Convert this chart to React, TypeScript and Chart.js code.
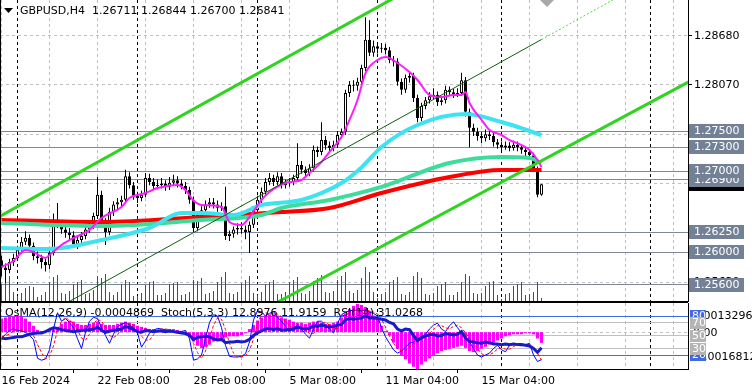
import React, { useEffect, useRef } from 'react';
import { Chart, registerables } from 'chart.js';

Chart.register(...registerables);

// ---------- header texts ----------
const symbolHeader = 'GBPUSD,H4  1.26711 1.26844 1.26700 1.26841';
const indicatorHeader = 'OsMA(12,26,9) -0.0004869  Stoch(5,3,3) 12.8976 11.9159  RSI(14) 31.0268';

// ---------- price data (H4 bars, index 0 = leftmost) ----------
const opens = [
  1.2590, 1.2581, 1.2578, 1.2588, 1.2593, 1.2603, 1.2613, 1.2618, 1.2608, 1.2595,
  1.2593, 1.2588, 1.2584, 1.2599, 1.2637, 1.2635, 1.2628, 1.2624, 1.2621, 1.2610,
  1.2615, 1.2620, 1.2628, 1.2633, 1.2645, 1.2671, 1.2637, 1.2625, 1.2650, 1.2659,
  1.2662, 1.2665, 1.2694, 1.2683, 1.2670, 1.2667, 1.2671, 1.2692, 1.2687, 1.2682,
  1.2683, 1.2685, 1.2681, 1.2686, 1.2689, 1.2685, 1.2682, 1.2677, 1.2665, 1.2630,
  1.2646, 1.2652, 1.2659, 1.2662, 1.2659, 1.2655, 1.2657, 1.2620, 1.2623, 1.2628,
  1.2630, 1.2628, 1.2625, 1.2634, 1.2652, 1.2665, 1.2675, 1.2687, 1.2692, 1.2687,
  1.2694, 1.2683, 1.2686, 1.2687, 1.2692, 1.2708, 1.2702, 1.2698, 1.2704, 1.2727,
  1.2724, 1.2739, 1.2732, 1.2729, 1.2733, 1.2745, 1.2749, 1.2797, 1.2807, 1.2806,
  1.2811, 1.2828, 1.2863, 1.2847, 1.2855, 1.2852, 1.2853, 1.2850, 1.2838, 1.2836,
  1.2811, 1.2801, 1.2816, 1.2818, 1.2791, 1.2766, 1.2781, 1.2788, 1.2793, 1.2795,
  1.2786, 1.2788, 1.2801, 1.2798, 1.2796, 1.2797, 1.2813, 1.2774, 1.2754, 1.2749,
  1.2744, 1.2741, 1.2746, 1.2744, 1.2736, 1.2733, 1.2730, 1.2732, 1.2729, 1.2733,
  1.2730, 1.2727, 1.2724, 1.2720, 1.2704, 1.26711,
];
const highs = [
  1.2596, 1.2586, 1.2592, 1.2598, 1.2608, 1.2619, 1.2626, 1.2622, 1.2612, 1.2601,
  1.2597, 1.2592, 1.2603, 1.2648, 1.2661, 1.2640, 1.2633, 1.2630, 1.2626, 1.2620,
  1.2625, 1.2632, 1.2638, 1.2649, 1.2693, 1.2676, 1.2642, 1.2655, 1.2663, 1.2667,
  1.2670, 1.2702, 1.2699, 1.2687, 1.2675, 1.2676, 1.2698, 1.2697, 1.2692, 1.2690,
  1.2692, 1.2689, 1.2693, 1.2696, 1.2694, 1.2690, 1.2687, 1.2681, 1.2669, 1.2650,
  1.2657, 1.2664, 1.2667, 1.2667, 1.2664, 1.2662, 1.2681, 1.2627, 1.2632, 1.2636,
  1.2637, 1.2633, 1.2638, 1.2656, 1.2670, 1.2680, 1.2692, 1.2698, 1.2696, 1.2699,
  1.2698, 1.2690, 1.2692, 1.2696, 1.2735, 1.2713, 1.2706, 1.2709, 1.2732, 1.2731,
  1.2761, 1.2744, 1.2737, 1.2738, 1.2750, 1.2753, 1.2801, 1.2812, 1.2813, 1.2816,
  1.2832, 1.2891, 1.2887, 1.2862, 1.2860, 1.2859, 1.2858, 1.2854, 1.2843, 1.2840,
  1.2815, 1.2820, 1.2823, 1.2822, 1.2795, 1.2785, 1.2792, 1.2798, 1.2803, 1.2799,
  1.2793, 1.2806, 1.2805, 1.2802, 1.2803, 1.2822, 1.2817, 1.2778, 1.2759, 1.2754,
  1.2749, 1.2752, 1.2751, 1.2748, 1.2740, 1.2737, 1.2737, 1.2736, 1.2738, 1.2737,
  1.2733, 1.2730, 1.2727, 1.2723, 1.2706, 1.26844,
];
const lows = [
  1.2570, 1.2562, 1.2574, 1.2583, 1.2589, 1.2598, 1.2609, 1.2603, 1.2590, 1.2586,
  1.2580, 1.2576, 1.2579, 1.2596, 1.2630, 1.2623, 1.2618, 1.2615, 1.2606, 1.2604,
  1.2611, 1.2616, 1.2624, 1.2629, 1.2641, 1.2633, 1.2609, 1.2621, 1.2645, 1.2653,
  1.2657, 1.2662, 1.2679, 1.2665, 1.2661, 1.2663, 1.2668, 1.2683, 1.2678, 1.2678,
  1.2679, 1.2676, 1.2677, 1.2682, 1.2680, 1.2678, 1.2672, 1.2660, 1.2625, 1.2626,
  1.2641, 1.2648, 1.2655, 1.2654, 1.2650, 1.2651, 1.2615, 1.2614, 1.2618, 1.2622,
  1.2623, 1.2616, 1.2599, 1.2630, 1.2648, 1.2660, 1.2671, 1.2683, 1.2682, 1.2683,
  1.2679, 1.2679, 1.2681, 1.2683, 1.2688, 1.2697, 1.2693, 1.2694, 1.2700, 1.2718,
  1.2720, 1.2727, 1.2724, 1.2725, 1.2729, 1.2741, 1.2745, 1.2792, 1.2799, 1.2800,
  1.2806, 1.2824, 1.2843, 1.2842, 1.2846, 1.2847, 1.2845, 1.2834, 1.2830, 1.2806,
  1.2795, 1.2797, 1.2810, 1.2786, 1.2761, 1.2762, 1.2777, 1.2784, 1.2789, 1.2781,
  1.2782, 1.2784, 1.2793, 1.2791, 1.2792, 1.2794, 1.2768, 1.2730, 1.2744, 1.2738,
  1.2735, 1.2737, 1.2739, 1.2731, 1.2728, 1.2726, 1.2727, 1.2725, 1.2726, 1.2725,
  1.2722, 1.2719, 1.2715, 1.2700, 1.2668, 1.26700,
];
const closes = [
  1.2581, 1.2578, 1.2588, 1.2593, 1.2603, 1.2613, 1.2618, 1.2608, 1.2595, 1.2593,
  1.2588, 1.2584, 1.2599, 1.2637, 1.2635, 1.2628, 1.2624, 1.2621, 1.2610, 1.2615,
  1.2620, 1.2628, 1.2633, 1.2645, 1.2671, 1.2637, 1.2625, 1.2650, 1.2659, 1.2662,
  1.2665, 1.2694, 1.2683, 1.2670, 1.2667, 1.2671, 1.2692, 1.2687, 1.2682, 1.2683,
  1.2685, 1.2681, 1.2686, 1.2689, 1.2685, 1.2682, 1.2677, 1.2665, 1.2630, 1.2646,
  1.2652, 1.2659, 1.2662, 1.2659, 1.2655, 1.2657, 1.2620, 1.2623, 1.2628, 1.2630,
  1.2628, 1.2625, 1.2634, 1.2652, 1.2665, 1.2675, 1.2687, 1.2692, 1.2687, 1.2694,
  1.2683, 1.2686, 1.2687, 1.2692, 1.2708, 1.2702, 1.2698, 1.2704, 1.2727, 1.2724,
  1.2739, 1.2732, 1.2729, 1.2733, 1.2745, 1.2749, 1.2797, 1.2807, 1.2806, 1.2811,
  1.2828, 1.2863, 1.2847, 1.2855, 1.2852, 1.2853, 1.2850, 1.2838, 1.2836, 1.2811,
  1.2801, 1.2816, 1.2818, 1.2791, 1.2766, 1.2781, 1.2788, 1.2793, 1.2795, 1.2786,
  1.2788, 1.2801, 1.2798, 1.2796, 1.2797, 1.2813, 1.2774, 1.2754, 1.2749, 1.2744,
  1.2741, 1.2746, 1.2744, 1.2736, 1.2733, 1.2730, 1.2732, 1.2729, 1.2733, 1.2730,
  1.2727, 1.2724, 1.2720, 1.2704, 1.26711, 1.26841,
];
const volumes = [
  4500, 5500, 6500, 2500,
  1500, 2250, 3500, 4000, 3750, 1250,
  1750, 2500, 5000, 6250, 6750, 2250,
  2000, 2750, 4500, 5000, 5500, 2000,
  2250, 3000, 6500, 6000, 7000, 2500,
  1750, 2500, 4500, 5500, 5000, 1500,
  1500, 2250, 4250, 5000, 5250, 1750,
  1750, 2250, 4500, 4750, 5000, 1750,
  2000, 2500, 5500, 5250, 6000, 2000,
  2250, 2750, 5000, 6250, 7500, 2250,
  2000, 2500, 4750, 5500, 6500, 2250,
  1750, 2500, 4500, 5000, 5500, 2000,
  2000, 2500, 5000, 5500, 6250, 2250,
  2000, 2750, 5250, 6000, 6750, 2500,
  2250, 2750, 5500, 6500, 7500, 2750,
  2250, 3000, 6000, 8750, 7500, 2500,
  1000, 2000, 2500, 5000, 5500, 6250, 2000,
  1750, 2500, 6500, 7500, 6000, 2000,
  1750, 2250, 4000, 4500, 5000, 1750,
  1750, 2500, 5000, 7000, 6500, 2250,
  2000, 2250, 4000, 5000, 5250, 1750,
  750, 2000, 2250, 4000, 4500, 5000, 1750,
  2000, 2500, 5000, 1000,
];

// ---------- moving averages [bar index, price] ----------
const maFast = [
  [0, 1.25817], [3, 1.25892], [6, 1.26028], [8, 1.26003], [11, 1.25929], [12, 1.25966],
  [15, 1.2609], [18, 1.26176], [22, 1.26275], [25, 1.26424], [30, 1.2656], [32, 1.26671],
  [36, 1.26733], [39, 1.26795], [44, 1.26832], [46, 1.2677], [48, 1.2664], [50, 1.26585],
  [55, 1.2656], [57, 1.26374], [60, 1.26337], [62, 1.26436], [65, 1.26647], [67, 1.26746],
  [71, 1.26857], [75, 1.26894], [77, 1.26981], [80, 1.27117], [82, 1.27241], [85, 1.27426],
  [87, 1.27637], [89, 1.27884], [91, 1.28218], [94, 1.28379], [96, 1.28416], [99, 1.28342],
  [102, 1.28231], [104, 1.28132], [107, 1.27946], [110, 1.27921], [113, 1.27946], [115, 1.27946],
  [116, 1.27983], [117, 1.27847], [120, 1.2764], [122, 1.27513], [125, 1.27451], [127, 1.27389],
  [130, 1.27327], [132, 1.27265], [134, 1.27142], [135, 1.27055],
];
const maCyan = [
  [0, 1.26053], [12, 1.2604], [25, 1.26152], [37, 1.2630], [45, 1.26486], [50, 1.26486],
  [58, 1.26461], [65, 1.26585], [75, 1.26647], [85, 1.26857], [90, 1.2705], [95, 1.27303],
  [104, 1.27575], [116, 1.2771], [125, 1.27612], [135, 1.27451],
];
const maTeal = [
  [0, 1.26362], [25, 1.26325], [50, 1.26399], [65, 1.26461], [70, 1.26548], [82, 1.26647],
  [95, 1.26808], [112, 1.27105], [125, 1.27179], [132, 1.27167], [135, 1.27105],
];
const maRed = [
  [0, 1.26399], [25, 1.26374], [50, 1.26436], [70, 1.26498], [82, 1.26548], [95, 1.26733],
  [112, 1.26931], [125, 1.27018], [135, 1.27018],
];

// ---------- trend channel objects [bar index, price] ----------
const channelUpper = [[-1, 1.26428], [110, 1.29472]];
const channelLower = [[69, 1.25381], [180, 1.28326]];
const channelMid = [[14, 1.25309], [135, 1.28633]];
const channelMidExt = [[135, 1.28633], [155, 1.29182]];

// ---------- levels, grid, labels ----------
const levelPrices = [1.2750, 1.2730, 1.2700, 1.2690, 1.2625, 1.2600, 1.2560];
const levelLabels = ['1.27500', '1.27300', '1.27000', '1.26900', '1.26250', '1.26000', '1.25600'];
const bidPrice = 1.26841;
const bidLabel = '1.26841';
const priceGrid = [1.2868, 1.2807, 1.2746, 1.2685, 1.2624, 1.2563];
const timeGridIdx = [0, 12, 24, 36, 48, 60, 72, 84, 96, 108, 120, 132, 144, 156, 168];
const timeLabelIdx = [0, 24, 48, 72, 96, 120];
const timeLabels = ['16 Feb 2024', '22 Feb 08:00', '28 Feb 08:00', '5 Mar 08:00', '11 Mar 04:00', '15 Mar 04:00'];
const weekSeparators = [4, 34, 64, 94, 125, 162.25];

// ---------- oscillators ----------
const osma = [
  0.00062, 0.00067, 0.00072, 0.00072, 0.00076, 0.00072, 0.00062, 0.00048, 0.00029,
  0.0001, 0.00005, 0, 0.00005, 0.0001, 0.00014,
  0.00038, 0.00048, 0.00053, 0.00048,
  0.00038, 0.00033, 0.00033, 0.00038, 0.00043, 0.00048,
  0.00038, 0.00033, 0.00033, 0.00033, 0.00038, 0.00043, 0.00048,
  0.00043, 0.00038,
  0.00029, 0.00024, 0.00019, 0.00014, 0.00014, 0.0001, 0.0001, 0.0001, 0.00014, 0.00014, 0.0001, 0.00005, -0.00005,
  -0.00019, -0.00043, -0.00062, -0.00072, -0.00067, -0.00057, -0.00043,
  -0.00033, -0.00029, -0.00024, -0.00019, -0.00019, -0.00019, -0.00014, -0.00005,
  0.00014, 0.00033, 0.00053, 0.00067, 0.00076, 0.00081,
  0.00081, 0.00076, 0.00067, 0.00062, 0.00057,
  0.00048, 0.00043, 0.00043, 0.00038, 0.00043, 0.00048, 0.00048, 0.00043, 0.00038, 0.00038, 0.00043, 0.00048,
  0.00067, 0.00086, 0.00105, 0.0012, 0.00129, 0.00124, 0.00115, 0.00096, 0.00076, 0.00057,
  0.00029, 0.00005, -0.00014,
  -0.00048, -0.00076, -0.00105, -0.00124, -0.00143, -0.00158,
  -0.00168, -0.00148, -0.00134, -0.0012, -0.00105, -0.00096, -0.00086, -0.00081, -0.00076, -0.00072, -0.00067,
  -0.00062, -0.00072, -0.00086, -0.00091, -0.00086, -0.00076, -0.00067, -0.00057, -0.00048, -0.00038,
  -0.00029, -0.00019, -0.00014, -0.0001, -0.0001, -0.0001, -0.00005, -0.00005, -0.0001,
  -0.00029, -0.00049,
];
const stochMain = [
  45, 52, 58, 60, 58, 57, 55, 50, 44, 15,
  12, 14, 28, 60, 85, 72, 76, 70, 62, 45,
  30, 55, 72, 78, 76, 62, 50, 38, 52, 64,
  67, 70, 66, 62, 54, 32, 42, 54, 58, 61,
  60, 59, 57, 55, 54, 56, 58, 45, 12, 14,
  20, 45, 70, 82, 80, 62, 35, 18, 17, 17,
  18, 22, 40, 74, 88, 86, 80, 84, 87, 78,
  72, 64, 58, 62, 66, 60, 52, 46, 60, 72,
  72, 66, 60, 54, 68, 82, 86, 88, 89, 89,
  88, 89, 86, 84, 80, 62, 48, 38, 28, 23,
  26, 32, 38, 40, 43, 48, 52, 60, 66, 69,
  60, 56, 65, 71, 62, 54, 45, 40, 30, 20,
  17, 20, 23, 30, 35, 28, 25, 35, 38, 35,
  34, 36, 38, 20, 10, 12.8976,
];
const stochSignal = [
  48, 50, 52, 57, 59, 58, 57, 54, 50, 36,
  24, 14, 18, 34, 58, 72, 78, 73, 69, 59,
  46, 43, 52, 68, 75, 72, 63, 50, 47, 51,
  61, 67, 68, 66, 61, 49, 43, 43, 51, 58,
  60, 60, 59, 57, 55, 55, 56, 53, 38, 24,
  15, 26, 45, 66, 77, 75, 59, 38, 23, 17,
  17, 19, 27, 45, 67, 83, 85, 83, 84, 83,
  79, 71, 65, 61, 62, 63, 59, 53, 53, 59,
  68, 70, 66, 60, 61, 68, 79, 85, 88, 89,
  89, 89, 88, 86, 83, 75, 63, 49, 38, 30,
  26, 27, 32, 37, 40, 44, 48, 53, 59, 65,
  65, 62, 60, 64, 66, 62, 54, 46, 38, 30,
  22, 19, 20, 24, 29, 31, 29, 29, 33, 36,
  36, 35, 36, 31, 23, 11.9159,
];
const rsi = [
  46, 45, 46, 47, 48, 48, 50, 52, 53, 54,
  54, 56, 59, 62, 61, 59, 58, 57, 56, 57,
  58, 58, 59, 60, 63, 58, 55, 57, 58, 59,
  60, 64, 62, 59, 56, 55, 58, 57, 56, 57,
  57, 56, 57, 56, 55, 54, 53, 50, 44, 47,
  48, 49, 48, 45, 43, 44, 39, 40, 40, 41,
  40, 41, 44, 50, 54, 57, 60, 61, 59, 61,
  58, 59, 59, 60, 63, 61, 60, 61, 65, 64,
  66, 64, 63, 64, 66, 67, 74, 76, 75, 76,
  77, 80, 77, 77, 76, 75, 74, 70, 68, 60,
  57, 60, 59, 50, 42, 47, 49, 51, 52, 49,
  50, 53, 52, 51, 52, 56, 46, 41, 40, 39,
  38, 40, 39, 37, 37, 36, 37, 36, 37, 36,
  36, 35, 34, 30, 24, 31.0268,
];
const oscLevels = [80, 70, 50, 30, 20];
const osmaMax = 0.00132962;
const osmaMin = -0.0016812;
const osmaMaxLabel = '0.00132962';
const osmaZeroLabel = '0.00';
const osmaMinLabel = '-0.0016812';

// ---------- layout constants ----------
const X_MIN = -0.375;
const X_MAX = 171.625;
const Y_MIN = 1.25384;
const Y_MAX = 1.29122;
const FONT = '11px "DejaVu Sans", sans-serif';

function hline(ctx: any, x1: number, x2: number, y: number) {
  ctx.beginPath(); ctx.moveTo(x1, y); ctx.lineTo(x2, y); ctx.stroke();
}
function vline(ctx: any, x: number, y1: number, y2: number) {
  ctx.beginPath(); ctx.moveTo(x, y1); ctx.lineTo(x, y2); ctx.stroke();
}
const crisp = (v: number) => Math.floor(v) + 0.5;

function drawVerticals(chart: any) {
  const { ctx, chartArea: a, scales } = chart;
  const xs = scales.x;
  ctx.lineWidth = 1;
  ctx.setLineDash([3, 3]);
  ctx.strokeStyle = '#c0c0c0';
  for (const i of timeGridIdx) vline(ctx, crisp(xs.getPixelForValue(i)), a.top, a.bottom);
  ctx.strokeStyle = '#000';
  for (const i of weekSeparators) vline(ctx, crisp(xs.getPixelForValue(i)), a.top, a.bottom);
  ctx.setLineDash([]);
}

const mainPlugin = {
  id: 'mt4Main',
  beforeDatasetsDraw(chart: any) {
    const { ctx, chartArea: a, scales } = chart;
    const ys = scales.y;
    ctx.save();
    ctx.beginPath(); ctx.rect(a.left, a.top, a.right - a.left, a.bottom - a.top); ctx.clip();
    drawVerticals(chart);
    ctx.setLineDash([3, 3]);
    ctx.strokeStyle = '#c0c0c0';
    for (const p of priceGrid) hline(ctx, a.left, a.right, crisp(ys.getPixelForValue(p)));
    ctx.setLineDash([]);
    ctx.strokeStyle = '#7a8899';
    for (const p of levelPrices) hline(ctx, a.left, a.right, crisp(ys.getPixelForValue(p)));
    ctx.restore();
  },
  afterDraw(chart: any) {
    const { ctx, chartArea: a, scales } = chart;
    const ys = scales.y;
    ctx.save();
    ctx.strokeStyle = '#000';
    ctx.lineWidth = 1;
    vline(ctx, 0.5, 0, a.bottom);
    hline(ctx, 0, a.right, a.bottom - 0.5);
    // chart shift marker
    ctx.fillStyle = '#a8a8a8';
    ctx.beginPath(); ctx.moveTo(540, 0); ctx.lineTo(554, 0); ctx.lineTo(547, 7); ctx.closePath(); ctx.fill();
    // header
    ctx.fillStyle = '#000';
    ctx.beginPath(); ctx.moveTo(4, 8); ctx.lineTo(13, 8); ctx.lineTo(8.5, 13); ctx.closePath(); ctx.fill();
    ctx.font = FONT;
    ctx.textBaseline = 'middle';
    ctx.textAlign = 'left';
    ctx.fillText(symbolHeader, 20, 11);
    // right price labels
    const box = (p: number, text: string, bg: string) => {
      const y = Math.round(ys.getPixelForValue(p));
      ctx.fillStyle = bg;
      ctx.fillRect(689, y - 7, 55, 14);
      ctx.fillStyle = '#fff';
      ctx.fillText(text, 694, y);
    };
    box(bidPrice, bidLabel, '#000');
    const order = [3, 2, 1, 0, 4, 5, 6];
    for (const k of order) box(levelPrices[k], levelLabels[k], '#738196');
    ctx.restore();
  },
};

const indPlugin = {
  id: 'mt4Ind',
  beforeDatasetsDraw(chart: any) {
    const { ctx, chartArea: a, scales } = chart;
    ctx.save();
    ctx.beginPath(); ctx.rect(a.left, a.top, a.right - a.left, a.bottom - a.top); ctx.clip();
    drawVerticals(chart);
    ctx.setLineDash([3, 3]);
    ctx.strokeStyle = '#c0c0c0';
    hline(ctx, a.left, a.right, crisp(scales.yo.getPixelForValue(0)));
    ctx.setLineDash([]);
    for (const lv of oscLevels) {
      ctx.strokeStyle = lv === 80 || lv === 20 ? '#4169e1' : '#c0c0c0';
      hline(ctx, a.left, a.right, crisp(scales.ys.getPixelForValue(lv)));
    }
    ctx.restore();
  },
  afterDraw(chart: any) {
    const { ctx, chartArea: a, scales } = chart;
    ctx.save();
    ctx.strokeStyle = '#000';
    ctx.lineWidth = 1;
    vline(ctx, 0.5, 0, a.bottom);
    hline(ctx, 0, a.right, 0.5);
    ctx.font = FONT;
    ctx.textBaseline = 'middle';
    ctx.textAlign = 'left';
    ctx.fillStyle = '#000';
    ctx.fillText(indicatorHeader, 5, 11);
    // right scale texts
    ctx.fillText(osmaMaxLabel, 693, a.top + 13);
    ctx.fillText(osmaZeroLabel, 693, Math.round(scales.yo.getPixelForValue(0)) + 1);
    ctx.fillText(osmaMinLabel, 693, a.bottom - 12);
    const box = (lv: number, bg: string) => {
      const y = Math.round(scales.ys.getPixelForValue(lv));
      ctx.fillStyle = bg;
      ctx.fillRect(690, y - 6, 16, 12);
      ctx.fillStyle = '#fff';
      ctx.fillText(String(lv), 692, y);
    };
    box(80, '#4169e1');
    box(20, '#4169e1');
    box(70, '#b4b4b4');
    box(50, '#b4b4b4');
    box(30, '#b4b4b4');
    ctx.restore();
  },
};

function curve(pts: number[][], color: string, width: number, order: number) {
  return {
    type: 'line', data: pts.map(([x, y]) => ({ x, y })), yAxisID: 'y',
    borderColor: color, borderWidth: width, pointRadius: 0, fill: false,
    cubicInterpolationMode: 'monotone', order, clip: 0,
  };
}
function straight(pts: number[][], color: string, width: number, order: number, dash: number[] = []) {
  return {
    type: 'line', data: pts.map(([x, y]) => ({ x, y })), yAxisID: 'y',
    borderColor: color, borderWidth: width, pointRadius: 0, fill: false,
    tension: 0, order, clip: 0, borderDash: dash,
  };
}

function mainConfig(): any {
  return {
    type: 'bar',
    data: {
      datasets: [
        { type: 'bar', data: volumes.map((v, i) => ({ x: i, y: v })), yAxisID: 'yv', backgroundColor: '#0b7a0b', barThickness: 1, grouped: false, inflateAmount: 0, order: 100 },
        { type: 'bar', data: lows.map((l, i) => ({ x: i, y: [l, highs[i]] })), yAxisID: 'y', backgroundColor: '#000', barThickness: 1, grouped: false, inflateAmount: 0, order: 90 },
        {
          type: 'bar', data: opens.map((o, i) => ({ x: i, y: [o, closes[i]] })), yAxisID: 'y',
          backgroundColor: opens.map((o, i) => (closes[i] >= o ? '#fff' : '#000')),
          borderColor: '#000', borderWidth: 1, borderSkipped: false, barThickness: 3, minBarLength: 1,
          grouped: false, inflateAmount: 0, order: 80,
        },
        curve(maRed, '#ff0000', 4, 50),
        curve(maTeal, '#3ddc9c', 4, 49),
        curve(maCyan, '#3fe3f0', 4, 48),
        curve(maFast, '#ff1aff', 2, 47),
        straight(channelUpper, '#2ed41f', 3, 40),
        straight(channelLower, '#2ed41f', 3, 40),
        straight(channelMid, '#0d5e0d', 1, 41),
        straight(channelMidExt, '#40e040', 1, 41, [2, 2]),
      ],
    },
    options: {
      responsive: false, animation: false, devicePixelRatio: 1, events: [],
      layout: { padding: 0 },
      plugins: { legend: { display: false }, tooltip: { enabled: false } },
      scales: {
        x: { type: 'linear', min: X_MIN, max: X_MAX, display: false, offset: false },
        y: {
          type: 'linear', position: 'right', min: Y_MIN, max: Y_MAX,
          afterBuildTicks: (s: any) => { s.ticks = priceGrid.map((v) => ({ value: v })); },
          afterFit: (s: any) => { s.width = 64; s.paddingTop = 0; s.paddingBottom = 0; },
          ticks: { autoSkip: false, padding: 2, color: '#000', font: { family: 'DejaVu Sans', size: 11 }, callback: (v: any) => Number(v).toFixed(5) },
          grid: { drawOnChartArea: false, drawTicks: true, tickLength: 4, tickColor: '#000' },
          border: { display: true, color: '#000' },
        },
        yv: { type: 'linear', display: false, min: 0, max: 75500 },
      },
    },
    plugins: [mainPlugin],
  };
}

function indConfig(): any {
  return {
    type: 'bar',
    data: {
      datasets: [
        { type: 'bar', data: osma.map((v, i) => ({ x: i, y: v })), yAxisID: 'yo', backgroundColor: '#ff00ff', barThickness: 3, grouped: false, inflateAmount: 0, order: 10 },
        { type: 'line', data: stochMain.map((v, i) => ({ x: i, y: v })), yAxisID: 'ys', borderColor: '#0000ff', borderWidth: 1, pointRadius: 0, tension: 0, order: 3, clip: 0 },
        { type: 'line', data: stochSignal.map((v, i) => ({ x: i, y: v })), yAxisID: 'ys', borderColor: '#ff0000', borderWidth: 1, borderDash: [3, 2], pointRadius: 0, tension: 0, order: 2, clip: 0 },
        { type: 'line', data: rsi.map((v, i) => ({ x: i, y: v })), yAxisID: 'ys', borderColor: '#1a1ac8', borderWidth: 3, pointRadius: 0, tension: 0, order: 1, clip: 0 },
      ],
    },
    options: {
      responsive: false, animation: false, devicePixelRatio: 1, events: [],
      layout: { padding: { top: 1, left: 0, right: 0, bottom: 0 } },
      plugins: { legend: { display: false }, tooltip: { enabled: false } },
      scales: {
        x: {
          type: 'linear', min: X_MIN, max: X_MAX, offset: false, position: 'bottom',
          afterBuildTicks: (s: any) => { s.ticks = timeGridIdx.map((v) => ({ value: v })); },
          afterFit: (s: any) => { s.height = 23; s.paddingLeft = 0; s.paddingRight = 0; },
          ticks: {
            autoSkip: false, maxRotation: 0, minRotation: 0, align: 'start', padding: 2, color: '#000',
            font: { family: 'DejaVu Sans', size: 11 },
            callback: (v: any) => { const k = timeLabelIdx.indexOf(Number(v)); return k >= 0 ? timeLabels[k] : ''; },
          },
          grid: {
            drawOnChartArea: false, drawTicks: true, tickLength: 4,
            tickColor: (c: any) => (c.tick && timeLabelIdx.includes(c.tick.value) ? '#000' : 'rgba(0,0,0,0)'),
          },
          border: { display: true, color: '#000' },
        },
        ys: {
          type: 'linear', position: 'right', min: -1.5, max: 100,
          afterFit: (s: any) => { s.width = 64; s.paddingTop = 0; s.paddingBottom = 0; },
          ticks: { display: false },
          grid: { drawOnChartArea: false, drawTicks: false },
          border: { display: true, color: '#000' },
        },
        yo: { type: 'linear', display: false, min: osmaMin, max: osmaMax },
      },
    },
    plugins: [indPlugin],
  };
}

export default function App() {
  const mainRef = useRef<HTMLCanvasElement>(null);
  const indRef = useRef<HTMLCanvasElement>(null);
  useEffect(() => {
    const main = new Chart(mainRef.current as HTMLCanvasElement, mainConfig());
    const ind = new Chart(indRef.current as HTMLCanvasElement, indConfig());
    return () => { main.destroy(); ind.destroy(); };
  }, []);
  return (
    <div style={{ position: 'fixed', left: 0, top: 0, width: 752, height: 392, background: '#fff', overflow: 'hidden' }}>
      <canvas ref={mainRef} width={752} height={302} style={{ position: 'absolute', left: 0, top: 0, width: 752, height: 302 }} />
      <canvas ref={indRef} width={752} height={90} style={{ position: 'absolute', left: 0, top: 302, width: 752, height: 90 }} />
    </div>
  );
}
